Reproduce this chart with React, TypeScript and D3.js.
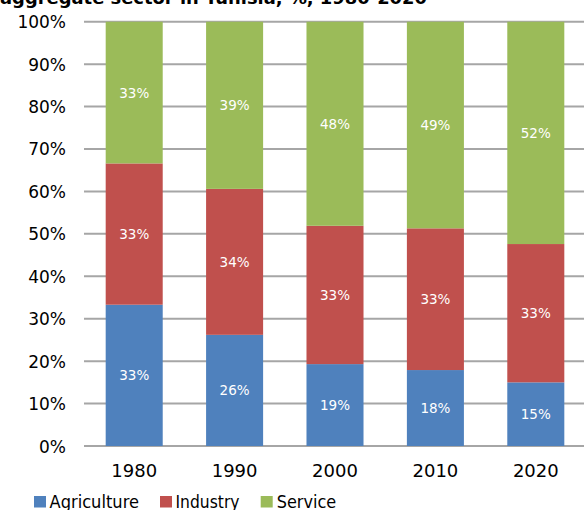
import React from "react";
import * as d3 from "d3";

const categories = ["1980", "1990", "2000", "2010", "2020"];
const agriculture = [33.3, 26.2, 19.3, 17.9, 15.0];
const industry = [33.3, 34.4, 32.6, 33.4, 32.6];
const service = [33.4, 39.4, 48.1, 48.7, 52.4];
const seriesNames = ["Agriculture", "Industry", "Service"];
const seriesColors = ["#4F81BD", "#C0504D", "#9BBB59"];
const yTicks = [0, 10, 20, 30, 40, 50, 60, 70, 80, 90, 100];
const title = "aggregate sector in Tunisia, %, 1980-2020";

const W = 584;
const H = 510;
const FONT = "'DejaVu Sans', sans-serif";

export default function App() {
  const x = d3.scaleBand<string>().domain(categories).range([84, 586]).paddingInner(0.432).paddingOuter(0.216);
  const y = d3.scaleLinear().domain([0, 100]).range([446, 21.7]);

  const rows = categories.map((c, i) => ({
    cat: c,
    Agriculture: agriculture[i],
    Industry: industry[i],
    Service: service[i],
  }));
  const stack = d3.stack<any>().keys(seriesNames);
  const layers = stack(rows);

  return (
    <svg width={W} height={H} style={{ position: "absolute", left: 0, top: 0 }} fontFamily={FONT}>
      <rect width={W} height={H} fill="#fff" />
      <text x={0} y={4} fontSize={18} fontWeight="bold" textLength={427} lengthAdjust="spacingAndGlyphs" fill="#000">
        {title}
      </text>
      {yTicks.map((t) => (
        <g key={t}>
          <line x1={84} x2={W} y1={y(t)} y2={y(t)} stroke="#a6a6a6" strokeWidth={2} />
          <text x={66} y={y(t) + 6.5} textAnchor="end" fontSize={17} fill="#000">
            {t}%
          </text>
        </g>
      ))}
      {layers.map((layer, li) => (
        <g key={layer.key}>
          {layer.map((d, i) => {
            const x0 = x(categories[i])!;
            const yTop = y(d[1]);
            const yBot = y(d[0]);
            const v = d[1] - d[0];
            return (
              <g key={i}>
                <rect x={x0} y={yTop} width={x.bandwidth()} height={yBot - yTop} fill={seriesColors[li]} />
                <text
                  x={x0 + x.bandwidth() / 2}
                  y={(yTop + yBot) / 2 + 5}
                  textAnchor="middle"
                  fontSize={13.5}
                  fill="#fff"
                >
                  {Math.round(v)}%
                </text>
              </g>
            );
          })}
        </g>
      ))}
      {categories.map((c) => (
        <text key={c} x={x(c)! + x.bandwidth() / 2} y={477} textAnchor="middle" fontSize={18} fill="#000">
          {c}
        </text>
      ))}
      {[
        { sx: 34, tx: 49.5, w: 89.5 },
        { sx: 160, tx: 175.5, w: 64 },
        { sx: 260.7, tx: 276.7, w: 59.5 },
      ].map((p, i) => (
        <g key={i}>
          <rect x={p.sx} y={496} width={12} height={11.5} fill={seriesColors[i]} />
          <text x={p.tx} y={507.5} fontSize={17} fill="#000" textLength={p.w} lengthAdjust="spacingAndGlyphs">
            {seriesNames[i]}
          </text>
        </g>
      ))}
    </svg>
  );
}
